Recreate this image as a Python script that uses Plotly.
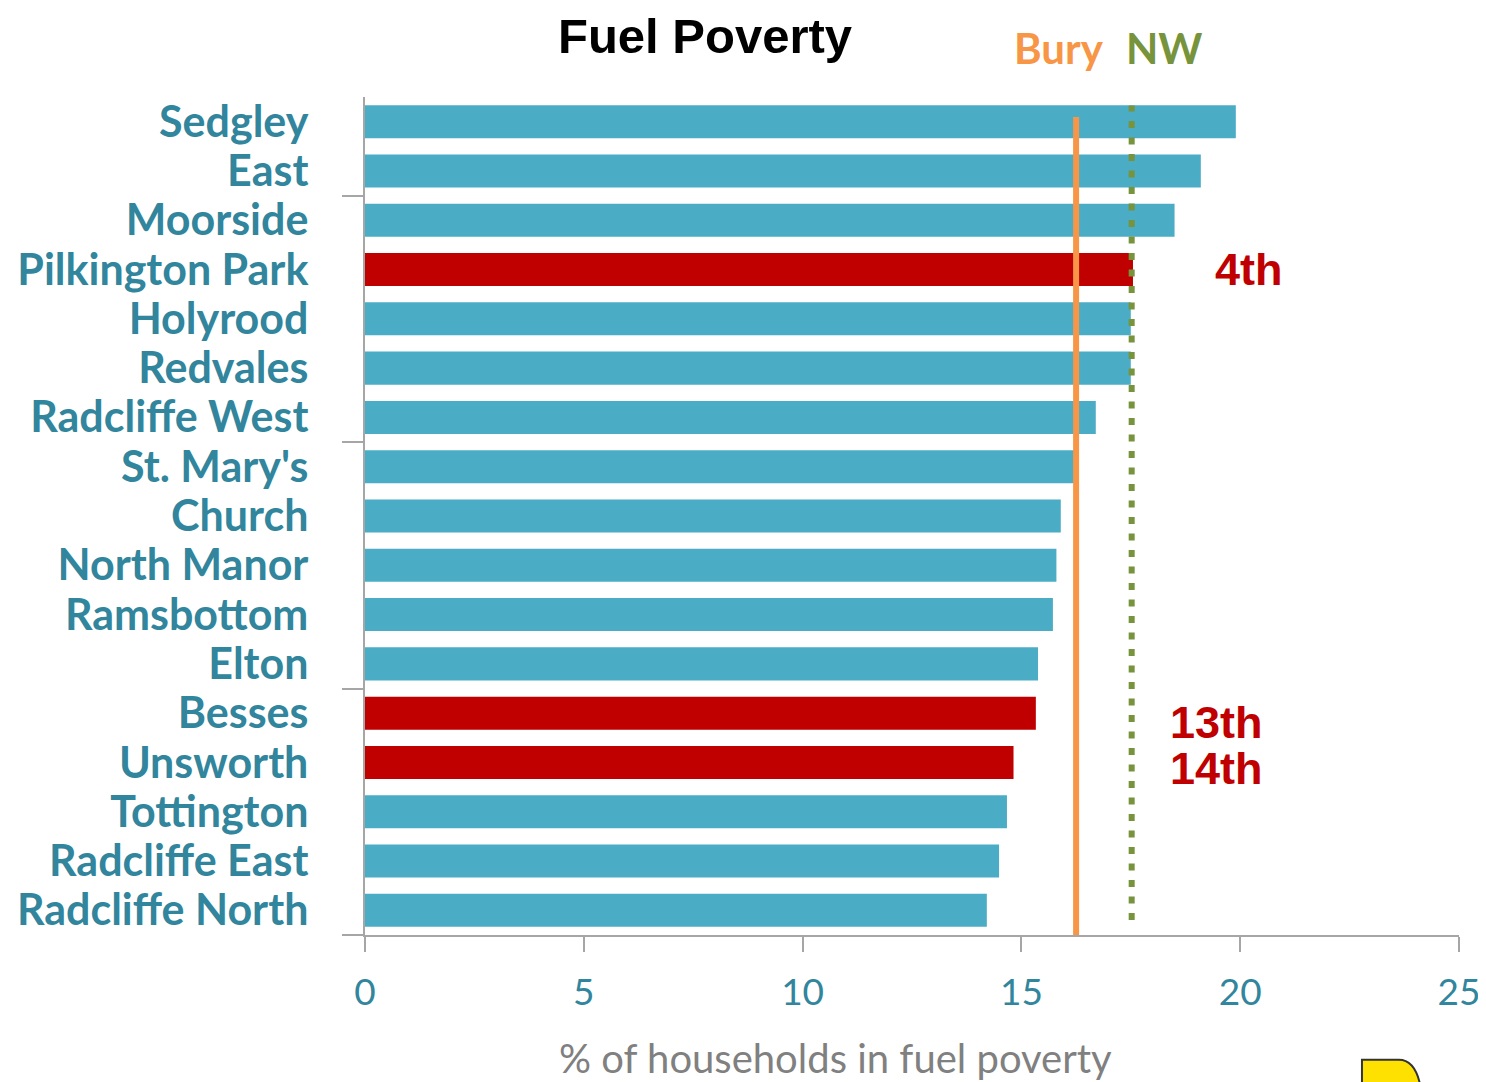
import plotly.graph_objects as go

# ---------------- data ----------------
wards = ["Sedgley", "East", "Moorside", "Pilkington Park", "Holyrood", "Redvales",
         "Radcliffe West", "St. Mary's", "Church", "North Manor", "Ramsbottom",
         "Elton", "Besses", "Unsworth", "Tottington", "Radcliffe East", "Radcliffe North"]
fuel_poverty = [19.9, 19.1, 18.5, 17.55, 17.5, 17.5, 16.7, 16.2, 15.9, 15.8, 15.72,
                15.38, 15.33, 14.82, 14.67, 14.49, 14.21]
highlighted = ["Pilkington Park", "Besses", "Unsworth"]
bury_avg = 16.25
nw_avg = 17.52
x_ticks = [0, 5, 10, 15, 20, 25]
group_ticks = [1.5, 6.5, 11.5, 16.5]
rank_labels = {"Pilkington Park": "4th", "Besses": "13th", "Unsworth": "14th"}

BLUE = "#4bacc6"
RED = "#c00000"
TEAL = "#31859c"
ORANGE = "#f79646"
GREEN = "#77933c"
AXIS = "#a6a6a6"

colors = [RED if w in highlighted else BLUE for w in wards]

fig = go.Figure()
fig.add_trace(go.Bar(
    y=wards, x=fuel_poverty, orientation="h",
    marker=dict(color=colors, line=dict(width=0)),
    width=0.67, hoverinfo="x+y", showlegend=False,
))
# invisible trace to carry the numeric overlay axis used for group tick marks
fig.add_trace(go.Scatter(x=[None], y=[None], yaxis="y2", showlegend=False,
                         hoverinfo="skip", mode="markers"))

fig.update_layout(
    width=1478, height=1074,
    margin=dict(l=357, r=27, t=89, b=147, autoexpand=False),
    plot_bgcolor="white", paper_bgcolor="white",
    xaxis=dict(
        range=[0, 25], tickvals=x_ticks, showgrid=False, zeroline=False,
        showline=True, linecolor=AXIS, linewidth=2, automargin=False,
        ticks="outside", ticklen=15, tickcolor=AXIS, tickwidth=2,
        tickfont=dict(family="Lato", size=37, color=TEAL),
        ticklabelstandoff=9,
    ),
    yaxis=dict(
        categoryorder="array", categoryarray=wards,
        tickmode="array", tickvals=wards, ticktext=wards,
        range=[16.5, -0.5], automargin=False,
        showgrid=False, zeroline=False,
        showline=True, linecolor=AXIS, linewidth=2,
        ticks="", ticklabelstandoff=46,
        tickfont=dict(family="Lato", size=43, color=TEAL, weight="bold"),
    ),
    yaxis2=dict(
        overlaying="y", side="left", range=[16.5, -0.5], automargin=False,
        tickvals=group_ticks, ticks="outside", ticklen=22, tickcolor=AXIS, tickwidth=2,
        showticklabels=False, showgrid=False, zeroline=False, showline=False,
    ),
)

# reference lines
fig.add_shape(type="line", xref="x", yref="y domain", x0=bury_avg, x1=bury_avg,
              y0=0, y1=0.976, line=dict(color=ORANGE, width=6))
fig.add_shape(type="line", xref="x", yref="y domain", x0=nw_avg, x1=nw_avg,
              y0=0.018, y1=0.99, line=dict(color=GREEN, width=6, dash="7px,9.5px"))

# title & labels
fig.add_annotation(text="<b>Fuel Poverty</b>", xref="paper", yref="paper",
                   x=(705 - 365) / 1094, y=1.0, xanchor="center", yanchor="middle",
                   yshift=61, showarrow=False,
                   font=dict(family="Liberation Sans", size=49, color="black"))
fig.add_annotation(text="Bury", xref="x", yref="paper", x=bury_avg - 0.39, y=1.0,
                   xanchor="center", yanchor="middle", yshift=49, showarrow=False,
                   font=dict(family="Lato", size=42, color=ORANGE, weight="bold"))
fig.add_annotation(text="NW", xref="x", yref="paper", x=nw_avg + 0.76, y=1.0,
                   xanchor="center", yanchor="middle", yshift=49, showarrow=False,
                   font=dict(family="Lato", size=42, color=GREEN, weight="bold"))
fig.add_annotation(text="% of households in fuel poverty", xref="paper", yref="paper",
                   x=(835 - 365) / 1094, y=0, xanchor="center", yanchor="middle",
                   yshift=-123, showarrow=False,
                   font=dict(family="Lato", size=40, color="#808080"))

# rank labels
rank_x = {"Pilkington Park": 20.2, "Besses": 19.45, "Unsworth": 19.45}
rank_dy = {"Pilkington Park": 0, "Besses": 0.18, "Unsworth": 0.12}
for w, lab in rank_labels.items():
    fig.add_annotation(text=f"<b>{lab}</b>", xref="x", yref="y2", x=rank_x[w],
                       y=wards.index(w) + rank_dy[w], xanchor="center", yanchor="middle",
                       showarrow=False,
                       font=dict(family="Liberation Sans", size=45, color=RED))

# partial logo in bottom-right corner
fig.add_shape(type="path", xref="paper", yref="paper",
              path="M 0.9113 -0.19 L 0.9113 -0.149 L 0.945 -0.149 Q 0.962 -0.149 0.966 -0.19 Z",
              fillcolor="#ffe100", line=dict(color="#333333", width=2))

fig.write_html("out.html")
